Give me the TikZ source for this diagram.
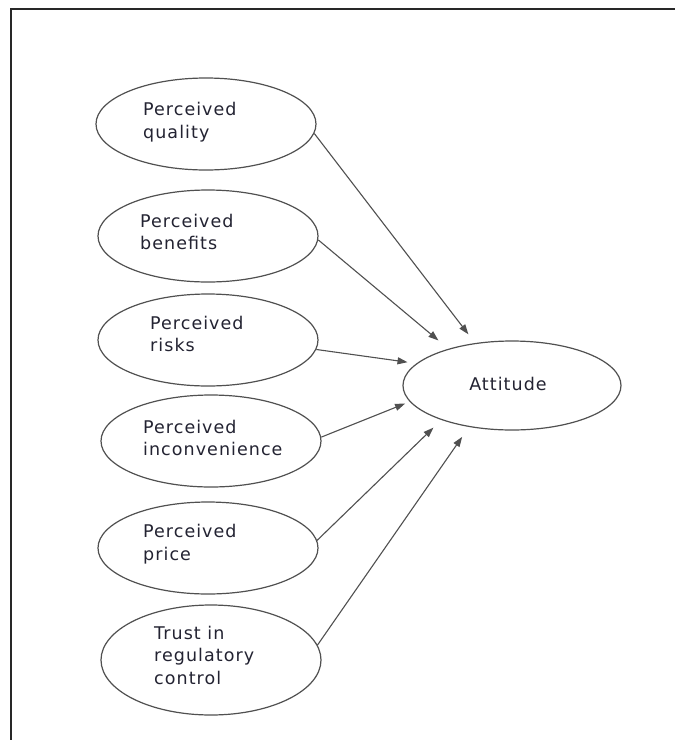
\documentclass[tikz,border=0pt]{standalone}
\usepackage{fontspec}
\setmainfont{DejaVu Sans}[LetterSpace=6]
\usetikzlibrary{arrows.meta,shapes.geometric}
\definecolor{inkline}{RGB}{80,80,80}
\definecolor{inktext}{RGB}{35,35,50}
\definecolor{framecol}{RGB}{40,40,40}
\tikzset{
  oval/.style={ellipse, draw=inkline, line width=1.2pt, minimum width=220pt, minimum height=92pt, inner sep=0pt},
  tall/.style={oval, minimum height=110pt},
  lbl/.style={anchor=west, align=left, inner sep=0pt, text=inktext, font=\fontsize{17.5}{22.5}\selectfont},
  link/.style={draw=inkline, line width=1.1pt, -{Triangle[length=10pt,width=7pt]}},
}
\begin{document}
\begin{tikzpicture}[x=1pt,y=-1pt]
\useasboundingbox (0,0) rectangle (675,740);
\fill[white] (0,0) rectangle (675,740);
% open frame: top and left edges only
\draw[framecol, line width=1.8pt] (675,9) -- (11,9) -- (11,740);

% predictors
\node[oval] (q) at (206,124) {};
\node[lbl] (qt) at (143,122) {Perceived\\quality};
\node[oval] (b) at (208,236) {};
\node[lbl] (bt) at (140,232) {Perceived\\benefits};
\node[oval] (r) at (208,340) {};
\node[lbl] (rt) at (150,334) {Perceived\\risks};
\node[oval] (i) at (211,441) {};
\node[lbl] (it) at (143,438) {Perceived\\inconvenience};
\node[oval] (p) at (208,548) {};
\node[lbl] (pt) at (143,544) {Perceived\\price};
\node[tall] (t) at (211,660) {};
\node[lbl] (tt) at (154,655) {Trust in\\regulatory\\control};

% outcome
\node[oval, minimum width=218pt, minimum height=89pt] (a) at (512,385.5) {};
\node[lbl, anchor=center] (at) at (508,384) {Attitude};

% paths into attitude
\draw[link, shorten >=11pt] (q.-5) -- (a.131);
\draw[link, shorten >=13pt] (b.-2) -- (a.150);
\draw[link, shorten >=9pt] (r.-5) -- (a.167);
\draw[link, shorten >=5pt] (i.2) -- (a.189);
\draw[link, shorten >=11pt] (p.4) -- (a.206);
\draw[link, shorten >=12pt] (t.8) -- (a.224);
\end{tikzpicture}
\end{document}
